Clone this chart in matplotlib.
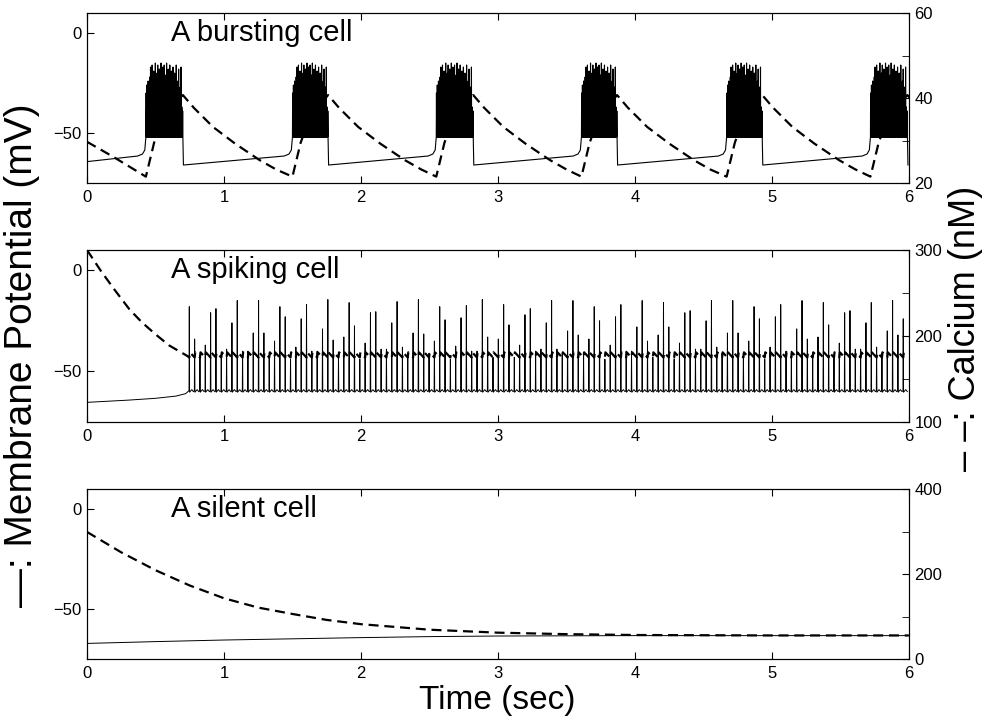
import numpy as np
import matplotlib
matplotlib.use('Agg')
import matplotlib.pyplot as plt

plt.rcParams['font.family'] = ['Liberation Sans', 'DejaVu Sans']
plt.rcParams['path.simplify'] = False

# ---------------- bursting cell ----------------
burst_on = [0.43, 1.50, 2.55, 3.61, 4.67, 5.72]
burst_off = [0.70, 1.76, 2.82, 3.87, 4.93, 5.99]
# spike peaks inside one burst (mV), trough level
burst_peaks = [-30, -38, -26, -40, -33, -24, -39, -29, -36, -22,
               -40, -17, -38, -27, -41, -16, -37, -33, -40, -19,
               -39, -25, -41, -15, -38, -35, -40, -20, -37, -16,
               -41, -30, -39, -18, -38, -24, -40, -15, -41, -34,
               -37, -17, -40, -28, -39, -16, -41, -36, -38, -21,
               -40, -15, -37, -31, -41, -18, -39, -26, -40, -16,
               -38, -35, -41, -19, -39, -23, -40, -17, -38, -37,
               -41, -20, -39, -30, -40, -16, -38, -36, -41, -24,
               -39, -18, -40, -38, -41, -27, -39, -17, -40, -37,
               -41, -39]
burst_trough = -52
v_burst_start = -64.3
pre_dt = [-0.06, -0.025, -0.008, 0.0]
pre_v = [-61.5, -60.5, -58.5, -52.0]
post_dt = [0.004]
post_v = [-66.0]

ca_burst_start_t = [0.0, 0.19]
ca_burst_start = [29.7, 26.2]
ca_rise_dt = [0.0, 0.03, 0.06, 0.10, 0.18]
ca_rise = [21.5, 25.5, 29.5, 33.0, 37.5]
ca_peak = 40.7
ca_decay_dt = [0.08, 0.22, 0.38, 0.56, 0.68]
ca_decay = [37.7, 33.2, 29.3, 25.4, 23.2]

# ---------------- spiking cell ----------------
v_spk_pre_t = [0.0, 0.3, 0.5, 0.65, 0.72]
v_spk_pre = [-65.3, -64.2, -63.3, -62.2, -61.0]
spk_t0 = 0.747
spk_isi = 0.0389
spk_peaks = [-18, -34, -42, -37, -21, -19, -42, -39, -26, -15, -40, -40, -31,
             -15, -31, -42, -35, -18, -23, -44, -38, -24, -17, -40, -40, -29,
             -14.5, -34.5, -43, -33, -16, -27.5, -44, -36, -21, -20.5, -39,
             -39, -26, -15.5, -38, -41, -31, -14.5, -31.5, -41, -35, -18,
             -24.5, -44, -37.5, -23.5, -17.5, -40, -40,
             -14.5, -33, -43, -34, -17, -27, -43, -37, -22, -19, -40, -39,
             -26, -15, -39, -41, -30, -15, -32, -42, -34, -18, -25, -44, -37,
             -23, -17, -40, -40, -28, -15, -35, -43, -32, -16, -28, -44, -36,
             -21, -20, -39, -39, -25, -15, -38, -41, -31, -15, -31, -41, -35,
             -18, -24, -44, -38, -23, -17, -40, -40, -29, -15, -34, -42, -33,
             -16, -27, -43, -36, -21, -20, -39, -39, -26, -16, -38, -41, -30,
             -15, -32, -24]
spk_shape_dt = [-0.002, 0.0, 0.002, 0.018, 0.030]
spk_shape_v = [-59.5, None, -60.3, -59.0, -60.0]

ca_spk_pre_t = [0.0, 0.1, 0.2, 0.31, 0.4, 0.5, 0.6, 0.73]
ca_spk_pre = [300, 276, 254, 231, 216, 202, 189, 177]
ca_spk_low = 175
ca_spk_high = 181

# ---------------- silent cell ----------------
v_sil_t = [0, 0.5, 1, 1.5, 2, 2.5, 3, 4, 6]
v_sil = [-67.2, -66.3, -65.5, -64.9, -64.3, -63.8, -63.5, -63.3, -63.3]
ca_sil_t = [0, 0.25, 0.5, 0.75, 1, 1.25, 1.5, 1.75, 2, 2.5, 3, 3.5, 4, 5, 6]
ca_sil = [299, 251, 209, 173, 143, 121, 106, 92, 82, 69, 62, 58.5, 56.5, 55.5, 55.5]

# ---- build bursting traces ----
tb, vb = [0.0], [v_burst_start]
tcb, cb = list(ca_burst_start_t), list(ca_burst_start)
for on, off in zip(burst_on, burst_off):
    for dt, vv in zip(pre_dt, pre_v):
        tb.append(on + dt); vb.append(vv)
    step = (off - on) / len(burst_peaks)
    for k, pk in enumerate(burst_peaks):
        tb += [on + (k + 0.5) * step, on + (k + 1) * step]
        vb += [pk, burst_trough]
    for dt, vv in zip(post_dt, post_v):
        tb.append(off + dt); vb.append(vv)
    for dt, cc in zip(ca_rise_dt, ca_rise):
        tcb.append(on + dt); cb.append(cc)
    tcb.append(off); cb.append(ca_peak)
    for dt, cc in zip(ca_decay_dt, ca_decay):
        tcb.append(off + dt); cb.append(cc)

# ---- build spiking traces ----
ts_, vs_ = list(v_spk_pre_t), list(v_spk_pre)
tcs, cs = list(ca_spk_pre_t), list(ca_spk_pre)
for i, pk in enumerate(spk_peaks):
    t_spk = spk_t0 + i * spk_isi
    for dt, vv in zip(spk_shape_dt, spk_shape_v):
        ts_.append(t_spk + dt)
        vs_.append(pk if vv is None else vv)
    tcs += [t_spk, t_spk + 0.004]
    cs += [ca_spk_low, ca_spk_high]

panels = [
    ("A bursting cell", tb, vb, tcb, cb, (20, 60), [20, 40, 60], [30, 50], 0.7458, 0.2361, 0.8),
    ("A spiking cell", ts_, vs_, tcs, cs, (100, 300), [100, 200, 300], [150, 250], 0.4139, 0.2389, 0.7),
    ("A silent cell", v_sil_t, v_sil, ca_sil_t, ca_sil, (0, 400), [0, 200, 400], [100, 300], 0.0847, 0.2361, 0.7),
]

fig = plt.figure(figsize=(9.83, 7.2), dpi=100)
for title, tv, vv, tc, cc, clim, cmaj, cmin, bot, h, vlw in panels:
    ax = fig.add_axes([0.0885, bot, 0.836, h])
    ax2 = ax.twinx()
    ax2.plot(tc, cc, color='k', lw=1.6, ls=(0, (4.5, 2.6)), dash_capstyle='butt')
    ax.plot(tv, vv, color='k', lw=vlw)
    ax.set_zorder(ax2.get_zorder() + 1)
    ax.patch.set_visible(False)
    ax.set_xlim(0, 6)
    ax.set_ylim(-75, 10)
    ax.set_xticks(range(7))
    ax.set_yticks([-50, 0])
    ax.tick_params(direction='in', top=True, right=False, length=5,
                   labelsize=12, pad=5)
    ax.tick_params(axis='y', pad=4)
    ax2.set_ylim(*clim)
    ax2.set_yticks(cmaj)
    ax2.set_yticks(cmin, minor=True)
    ax2.tick_params(which='both', direction='in', length=5, labelsize=12, pad=4)
    ax.text(0.61, 0, title, fontsize=21, va='center', ha='left')

fig.text(0.022, 0.507, "\u2014: Membrane Potential (mV)", rotation=90,
         fontsize=28, ha='center', va='center')
fig.text(0.982, 0.544, "\u2013 \u2013: Calcium (nM)", rotation=90,
         fontsize=26, ha='center', va='center')
fig.text(0.506, 0.027, "Time (sec)", fontsize=24, ha='center', va='center')

fig.savefig("out.png", dpi=100)
